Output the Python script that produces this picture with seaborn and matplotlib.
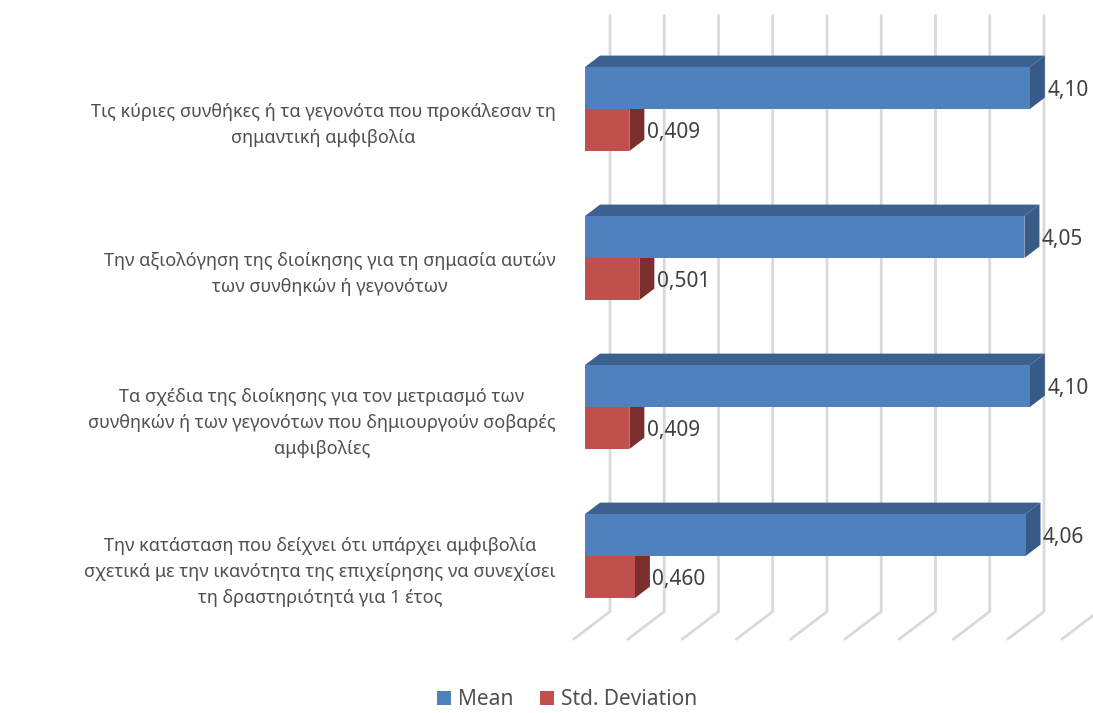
import numpy as np
import pandas as pd
import matplotlib
matplotlib.use("Agg")
import matplotlib.pyplot as plt
import seaborn as sns
from matplotlib.patches import Polygon, Rectangle
from matplotlib.lines import Line2D
from matplotlib.transforms import IdentityTransform, ScaledTranslation

# ---- data -------------------------------------------------------------
categories = [
    "Τις κύριες συνθήκες ή τα γεγονότα που προκάλεσαν τη\nσημαντική αμφιβολία",
    "Την αξιολόγηση της διοίκησης για τη σημασία αυτών\nτων συνθηκών ή γεγονότων",
    "Τα σχέδια της διοίκησης για τον μετριασμό των\nσυνθηκών ή των γεγονότων που δημιουργούν σοβαρές\nαμφιβολίες",
    "Την κατάσταση που δείχνει ότι υπάρχει αμφιβολία\nσχετικά με την ικανότητα της επιχείρησης να συνεχίσει\nτη δραστηριότητά για 1 έτος",
]
mean_values = [4.10, 4.05, 4.10, 4.06]
std_values = [0.409, 0.501, 0.409, 0.460]
series_names = ["Mean", "Std. Deviation"]
value_labels = [["4,10", "4,05", "4,10", "4,06"], ["0,409", "0,501", "0,409", "0,460"]]
grid_values = np.arange(0, 4.51, 0.5)

# ---- style ------------------------------------------------------------
sns.set_theme(style="white")
plt.rcParams["font.family"] = ["Noto Sans", "DejaVu Sans"]

front_colors = ["#4F81BD", "#C0504D"]
top_colors = ["#3C6190", "#8E3836"]
side_colors = ["#385A86", "#7A2F2D"]
grid_color = "#D9D9D9"
label_color = "#505050"
value_color = "#404040"

df = pd.DataFrame({
    "item": categories * 2,
    "value": mean_values + std_values,
    "series": [series_names[0]] * 4 + [series_names[1]] * 4,
})

W, H = 1093, 713
fig = plt.figure(figsize=(W / 100, H / 100), dpi=100)
ax_left, ax_right, ax_top, ax_bottom = 560, 1093, 10, 645
ax = fig.add_axes([ax_left / W, 1 - ax_bottom / H,
                   (ax_right - ax_left) / W, (ax_bottom - ax_top) / H])

sns.barplot(data=df, x="value", y="item", hue="series", orient="h",
            palette=front_colors, saturation=1, width=0.564, gap=0,
            errorbar=None, legend=False, linewidth=0, ax=ax)

ax.set_xlim(-0.2304, 4.682)
ax.set_ylim(3.597, -0.6644)
ax.set_xlabel("")
ax.set_ylabel("")
ax.set_xticks([])
for s in ax.spines.values():
    s.set_visible(False)
ax.tick_params(axis="y", length=0, pad=3, labelsize=13, labelcolor=label_color)
shift = ScaledTranslation(0, -10 / 100, fig.dpi_scale_trans)
for lab in ax.get_yticklabels():
    lab.set_multialignment("center")
    lab.set_linespacing(1.55)
    lab.set_transform(lab.get_transform() + shift)

# oblique depth direction (pixels per pixel of depth along x)
SLOPE = 0.76
BAR_DEPTH = 15.0
WALL_DEPTH = 25.0
FLOOR_FRONT = -11.4
ident = IdentityTransform()


def disp(x, y, d=0.0):
    px, py = ax.transData.transform((x, y))
    return (px + d, py + d * SLOPE)


# back wall and floor gridlines
for v in grid_values:
    top = disp(v, -0.5, WALL_DEPTH)
    back = disp(v, 3.5, WALL_DEPTH)
    front = disp(v, 3.5, FLOOR_FRONT)
    if v <= 4.0:
        xs, ys = [top[0], back[0], front[0]], [top[1], back[1], front[1]]
    else:
        xs, ys = [back[0], front[0]], [back[1], front[1]]
    ax.add_line(Line2D(xs, ys, color=grid_color, lw=2, transform=ident,
                       zorder=1, clip_on=False, solid_joinstyle="miter"))

# 3-D faces of each bar plus value labels
for k, cont in enumerate(ax.containers):
    for i, bar in enumerate(cont):
        bar.set_zorder(3)
        x0, y0, w, h = bar.get_x(), bar.get_y(), bar.get_width(), bar.get_height()
        x1 = x0 + w
        ytop, ybot = y0, y0 + h
        tl, tr = disp(x0, ytop), disp(x1, ytop)
        br = disp(x1, ybot)
        tl_b, tr_b, br_b = disp(x0, ytop, BAR_DEPTH), disp(x1, ytop, BAR_DEPTH), disp(x1, ybot, BAR_DEPTH)
        ax.add_patch(Polygon([tl, tr, tr_b, tl_b], closed=True, facecolor=top_colors[k],
                             edgecolor="none", transform=ident, zorder=2, clip_on=False))
        ax.add_patch(Polygon([tr, br, br_b, tr_b], closed=True, facecolor=side_colors[k],
                             edgecolor="none", transform=ident, zorder=2, clip_on=False))
        ax.annotate(value_labels[k][i], xy=(x1, (ytop + ybot) / 2),
                    xytext=(12.5, -1.5), textcoords="offset points",
                    ha="left", va="center", fontsize=15, color=value_color,
                    annotation_clip=False, zorder=4)

# legend
handles = [Rectangle((0, 0), 1, 1, facecolor=c, edgecolor="none") for c in front_colors]
fig.legend(handles, series_names, loc="lower center", bbox_to_anchor=(0.519, -0.011),
           ncol=2, frameon=False, fontsize=15, labelcolor=label_color, borderpad=0,
           handlelength=0.65, handleheight=0.65, handletextpad=0.35, columnspacing=1.3)

fig.savefig("out.png", dpi=100)
